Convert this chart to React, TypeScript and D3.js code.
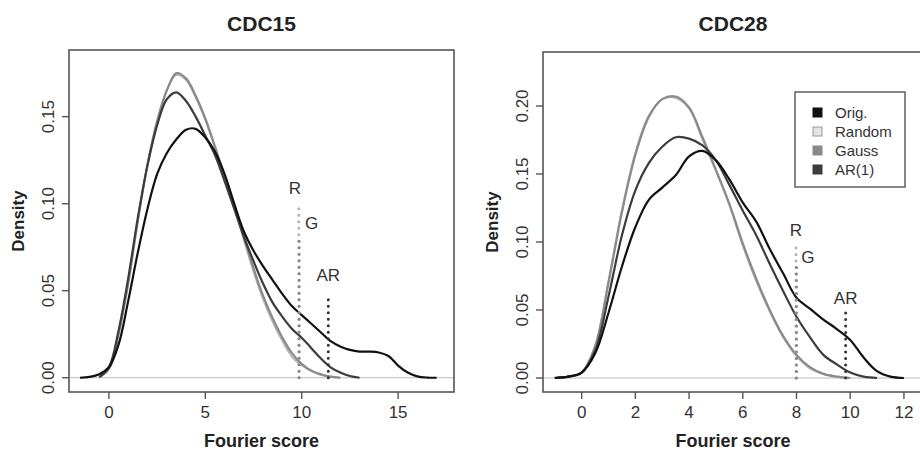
import React from "react";
import * as d3 from "d3";

// CDC15 panel
const xs15 = [-1.5, -1, -0.5, 0, 0.5, 1, 1.5, 2, 2.5, 3, 3.5, 4, 4.5, 5, 5.5, 6, 6.5, 7, 7.5, 8, 8.5, 9, 9.5, 10, 10.5, 11, 11.5, 12, 12.5, 13, 13.5, 14, 14.5, 15, 15.5, 16, 16.5, 17];
const orig15 = [0, 0.0005, 0.002, 0.006, 0.019, 0.044, 0.072, 0.097, 0.117, 0.129, 0.137, 0.1425, 0.143, 0.138, 0.13, 0.117, 0.1, 0.084, 0.073, 0.064, 0.056, 0.048, 0.041, 0.036, 0.031, 0.026, 0.021, 0.018, 0.016, 0.015, 0.015, 0.0145, 0.0125, 0.007, 0.003, 0.0008, 0.0001, 0];
const random15 = [null, null, 0.0003, 0.005, 0.026, 0.055, 0.091, 0.123, 0.148, 0.165, 0.174, 0.171, 0.161, 0.148, 0.132, 0.115, 0.098, 0.079, 0.061, 0.045, 0.032, 0.021, 0.012, 0.007, 0.004, 0.0015, 0.0005, 0, null, null, null, null, null, null, null, null, null, null];
const gauss15 = [null, null, 0.0003, 0.005, 0.025, 0.054, 0.09, 0.122, 0.147, 0.165, 0.175, 0.172, 0.162, 0.149, 0.133, 0.116, 0.099, 0.081, 0.063, 0.047, 0.034, 0.023, 0.014, 0.008, 0.004, 0.002, 0.0006, 0, null, null, null, null, null, null, null, null, null, null];
const ar15 = [null, null, 0.0004, 0.006, 0.027, 0.057, 0.092, 0.122, 0.145, 0.16, 0.164, 0.159, 0.15, 0.139, 0.128, 0.113, 0.097, 0.081, 0.067, 0.054, 0.043, 0.035, 0.028, 0.023, 0.017, 0.011, 0.006, 0.003, 0.001, 0, null, null, null, null, null, null, null, null];

// CDC28 panel
const xs28 = [-1, -0.5, 0, 0.5, 1, 1.5, 2, 2.5, 3, 3.5, 4, 4.5, 5, 5.5, 6, 6.5, 7, 7.5, 8, 8.5, 9, 9.5, 10, 10.5, 11, 11.5, 12];
const orig28 = [0, 0.001, 0.004, 0.018, 0.048, 0.082, 0.111, 0.131, 0.14, 0.149, 0.163, 0.167, 0.16, 0.146, 0.129, 0.115, 0.095, 0.077, 0.059, 0.051, 0.043, 0.036, 0.028, 0.015, 0.005, 0.001, 0];
const random28 = [0, 0.001, 0.004, 0.024, 0.072, 0.124, 0.166, 0.193, 0.205, 0.206, 0.198, 0.175, 0.152, 0.127, 0.097, 0.071, 0.049, 0.03, 0.016, 0.007, 0.003, 0.001, 0, null, null, null, null];
const gauss28 = [0, 0.001, 0.004, 0.023, 0.07, 0.122, 0.164, 0.192, 0.205, 0.207, 0.199, 0.177, 0.153, 0.128, 0.099, 0.073, 0.05, 0.031, 0.017, 0.008, 0.003, 0.001, 0, null, null, null, null];
const ar28 = [0, 0.001, 0.004, 0.02, 0.06, 0.105, 0.138, 0.158, 0.17, 0.177, 0.176, 0.171, 0.16, 0.142, 0.123, 0.105, 0.084, 0.064, 0.045, 0.03, 0.017, 0.01, 0.004, 0.001, 0, null, null];

const seriesNames = ["Orig.", "Random", "Gauss", "AR(1)"];
const seriesColors = ["#111111", "#b4b4b4", "#8a8a8a", "#3c3c3c"];

// cutoff markers: label, x position, line top, label y
const cutLabels = ["R", "G", "AR"];
const cut15 = [9.85, 9.87, 11.38];
const cut28 = [7.98, 8.0, 9.83];
const cutTops = [0.1, 0.082, 0.048];
const labelYs = [0.109, 0.089, 0.059];
const labelDx15 = [-0.2, 0.65, 0];
const labelDx28 = [0, 0.42, 0];
const cutColors = ["#b4b4b4", "#8a8a8a", "#333333"];

const xTicks15 = [0, 5, 10, 15];
const yTicks15 = [0, 0.05, 0.1, 0.15];
const xTicks28 = [0, 2, 4, 6, 8, 10, 12];
const yTicks28 = [0, 0.05, 0.1, 0.15, 0.2];

const FONT = "'Liberation Sans', Arial, Helvetica, sans-serif";
const AXIS = "#555";

type PanelProps = {
  title: string;
  xs: number[];
  series: (number | null)[][];
  cuts: number[];
  labelDx: number[];
  xTicks: number[];
  yTicks: number[];
  box: { x0: number; x1: number; y0: number; y1: number };
  xDomain: [number, number];
  yDomain: [number, number];
  legend?: boolean;
};

const Panel = ({ title, xs, series, cuts, labelDx, xTicks, yTicks, box, xDomain, yDomain, legend }: PanelProps) => {
  const x = d3.scaleLinear().domain(xDomain).range([box.x0, box.x1]);
  const y = d3.scaleLinear().domain(yDomain).range([box.y1, box.y0]);
  const cx = (box.x0 + box.x1) / 2;
  const cy = (box.y0 + box.y1) / 2;

  const line = d3
    .line<[number, number | null]>()
    .defined((d) => d[1] != null)
    .x((d) => x(d[0]))
    .y((d) => y(d[1] as number))
    .curve(d3.curveCatmullRom.alpha(0.5));

  return (
    <g fontFamily={FONT}>
      <text x={cx} y={31} textAnchor="middle" fontSize={21} fontWeight="bold" fill="#222">
        {title}
      </text>
      {/* zero line */}
      <line x1={box.x0} x2={box.x1} y1={y(0)} y2={y(0)} stroke="#bbb" strokeWidth={1.2} />
      {/* densities, drawn back to front */}
      {[1, 2, 3, 0].map((i) => (
        <path
          key={i}
          d={line(xs.map((v, j) => [v, series[i][j]])) || ""}
          fill="none"
          stroke={seriesColors[i]}
          strokeWidth={i === 1 ? 1.8 : 2.2}
        />
      ))}
      {/* cutoffs */}
      {cuts.map((c, i) => (
        <g key={cutLabels[i]}>
          <line
            x1={x(c)}
            x2={x(c)}
            y1={y(0)}
            y2={y(cutTops[i])}
            stroke={cutColors[i]}
            strokeWidth={3}
            strokeDasharray="0 6.5"
            strokeLinecap="round"
          />
          <text
            x={x(c + labelDx[i])}
            y={y(labelYs[i])}
            dy="0.36em"
            textAnchor="middle"
            fontSize={17}
            fill="#333"
          >
            {cutLabels[i]}
          </text>
        </g>
      ))}
      {/* box */}
      <rect x={box.x0} y={box.y0} width={box.x1 - box.x0} height={box.y1 - box.y0} fill="none" stroke={AXIS} strokeWidth={1.6} />
      {/* x axis */}
      {xTicks.map((t) => (
        <g key={t}>
          <line x1={x(t)} x2={x(t)} y1={box.y1} y2={box.y1 + 7} stroke={AXIS} strokeWidth={1.4} />
          <text x={x(t)} y={box.y1 + 26} textAnchor="middle" fontSize={17} fill="#333">
            {t}
          </text>
        </g>
      ))}
      {/* y axis */}
      {yTicks.map((t) => (
        <g key={t}>
          <line x1={box.x0} x2={box.x0 - 7} y1={y(t)} y2={y(t)} stroke={AXIS} strokeWidth={1.4} />
          <text
            transform={`translate(${box.x0 - 15},${y(t)}) rotate(-90)`}
            textAnchor="middle"
            fontSize={17}
            fill="#333"
          >
            {d3.format(".2f")(t)}
          </text>
        </g>
      ))}
      <text x={cx} y={447} textAnchor="middle" fontSize={18} fontWeight="bold" fill="#222">
        Fourier score
      </text>
      <text
        transform={`translate(${box.x0 - 45},${cy}) rotate(-90)`}
        textAnchor="middle"
        fontSize={17}
        fontWeight="bold"
        fill="#222"
      >
        Density
      </text>
      {legend && (
        <g>
          <rect x={795} y={92} width={110} height={95} fill="#fff" stroke={AXIS} strokeWidth={1.4} />
          {seriesNames.map((n, i) => (
            <g key={n}>
              <rect
                x={813}
                y={108 + i * 19}
                width={9}
                height={9}
                fill={i === 1 ? "#e4e4e4" : seriesColors[i]}
                stroke={i === 1 ? "#999" : seriesColors[i]}
              />
              <text x={835} y={113 + i * 19} dy="0.35em" fontSize={15} fill="#333">
                {n}
              </text>
            </g>
          ))}
        </g>
      )}
    </g>
  );
};

export default function App() {
  return (
    <div style={{ position: "absolute", left: 0, top: 0 }}>
      <svg width={920} height={451} style={{ display: "block", background: "#fff" }}>
        <Panel
          title="CDC15"
          xs={xs15}
          series={[orig15, random15, gauss15, ar15]}
          cuts={cut15}
          labelDx={labelDx15}
          xTicks={xTicks15}
          yTicks={yTicks15}
          box={{ x0: 69, x1: 454, y0: 50, y1: 392 }}
          xDomain={[-2.07, 17.9]}
          yDomain={[-0.0082, 0.1883]}
        />
        <Panel
          title="CDC28"
          xs={xs28}
          series={[orig28, random28, gauss28, ar28]}
          cuts={cut28}
          labelDx={labelDx28}
          xTicks={xTicks28}
          yTicks={yTicks28}
          box={{ x0: 543, x1: 923, y0: 52, y1: 392 }}
          xDomain={[-1.44, 12.71]}
          yDomain={[-0.0103, 0.2397]}
          legend
        />
      </svg>
    </div>
  );
}
